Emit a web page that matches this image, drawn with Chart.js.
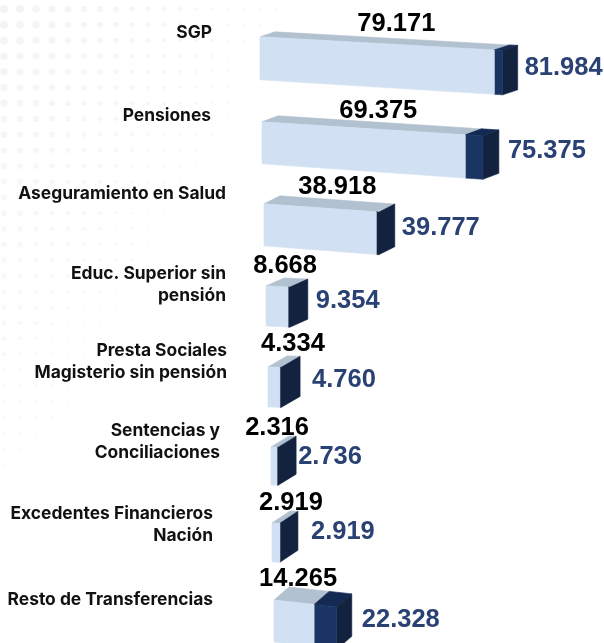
<!DOCTYPE html>
<html lang="es">
<head>
<meta charset="utf-8">
<title>Transferencias</title>
<script src="https://cdn.jsdelivr.net/npm/chart.js@4/dist/chart.umd.min.js"></script>
<style>
    html, body { margin: 0; padding: 0; background: #fff; }
    #wrap { width: 604px; height: 643px; overflow: hidden; }
</style>
</head>
<body>
<div id="wrap"><canvas id="graph"></canvas></div>
<script>
/********
 * Data *
 ********/
const categories = [
    ["SGP"],
    ["Pensiones"],
    ["Aseguramiento en Salud"],
    ["Educ. Superior sin", "pensión"],
    ["Presta Sociales", "Magisterio sin pensión"],
    ["Sentencias y", "Conciliaciones"],
    ["Excedentes Financieros", "Nación"],
    ["Resto de Transferencias"]
];
const lightValues = [79171, 69375, 38918, 8668, 4334, 2316, 2919, 14265];
const darkValues = [81984, 75375, 39777, 9354, 4760, 2736, 2919, 22328];

/**********
 * Layout *
 **********/
// pixels per row, the picture is a hand placed 3D perspective so nothing is regular
const rowDrop = [-2.5, 4.4, 8.8, 12.2, 15.6, 17, 15.9, 16.8];  // bar centre vs category centre
const rowShift = [0, 2, 4, 6, 8, 11, 12, 14];                  // left edge drifts right going down
const foreshorten = [1, 0.99, 0.975, 0.86, 0.93, 0.88, 0.92, 0.95];
const frontHeight = [43, 42, 42, 40, 40, 38, 39, 42];
const frontSlope = [0.056, 0.064, 0.071, 0.05, 0.03, 0.03, 0.03, 0.11];
const depthX = [15, 16, 16, 18, 19, 18, 18, 15];
const depthY = [-5, -6, -8, -8, -11, -11, -12, -13];

const labelRight = [212, 211, 226, 226, 227, 220, 213, 213];
const labelDy = [-28.5, -23.1, -22.7, -20.3, -20.9, -18.5, -13.1, -4.7];
const lightLabelDx = [-98, -87, -39, -3, 13, 0, 11, -16];
const lightLabelDy = [-36.5, -27.1, -28.7, -27.3, -26.9, -20.5, -23.1, -25.7];
const darkLabelGap = [7, 9, 7, 8, 12, 2, 13, 10];
const darkLabelDy = [7.5, 12.9, 12.3, 7.7, 9.1, 8.5, 5.9, 15.3];

const frontLight = "#d1e1f3";
const topLight = "#b2c1d0";
const frontDark = "#1a3564";
const topDark = "#152a52";
const sideDark = "#12223f";
const labelBlue = "#2a4273";
const valueFont = "700 25.5px 'Liberation Sans', Arial, sans-serif";
const categoryFont = "700 17.4px Inter, 'Noto Sans', sans-serif";
const thinFront = 4; // a dark front narrower than this just melts into the side


/**
 * Writes a value with a dot as thousands separator.
 */
function formatValue(value) {
    return String(value).replace(/\B(?=(\d{3})+$)/g, ".");
}

function fillPolygon(ctx, color, points) {
    ctx.fillStyle = color;
    ctx.strokeStyle = color;
    ctx.lineWidth = 0.6; // hides the seam between faces
    ctx.beginPath();
    points.forEach((p, i) => i ? ctx.lineTo(p[0], p[1]) : ctx.moveTo(p[0], p[1]));
    ctx.closePath();
    ctx.fill();
    ctx.stroke();
}

/**
 * Faint dot pattern behind the chart, fades to the right and downwards.
 */
const dotsPlugin = {
    id: "dots",
    beforeDraw(chart) {
        const ctx = chart.ctx;
        ctx.save();
        for (let y = 9; y < 643; y += 15.7) {
            for (let x = 4; x < 604; x += 16) {
                const radius = Math.max(0.9, 4.2 - 0.011 * x - 0.0055 * y);
                const alpha = Math.max(0.015, 0.055 - 0.00005 * x - 0.00007 * y);
                ctx.fillStyle = `rgba(60,60,60,${alpha})`;
                ctx.beginPath();
                ctx.arc(x, y, radius, 0, Math.PI * 2);
                ctx.fill();
            }
        }
        ctx.restore();
    }
};

/**
 * Turns the bar elements of both datasets into boxes and writes the labels.
 */
const boxesPlugin = {
    id: "boxes",
    afterDatasetsDraw(chart) {
        const ctx = chart.ctx;
        const yScale = chart.scales.y;
        const darkBars = chart.getDatasetMeta(0).data;
        const lightBars = chart.getDatasetMeta(1).data;

        categories.forEach((lines, i) => {
            const base = lightBars[i].base;
            const left = base + rowShift[i];
            const lightEnd = left + (lightBars[i].x - base) * foreshorten[i];
            const darkEnd = left + (darkBars[i].x - base) * foreshorten[i];
            const h = frontHeight[i];
            const top = lightBars[i].y + rowDrop[i] - h / 2;
            const s = frontSlope[i];
            const dx = depthX[i];
            const dy = depthY[i];
            const yAt = x => top + (x - left) * s;
            const grow = x => (x - left) * 0.006;
            const thin = darkEnd - lightEnd < thinFront;

            const corner = (x, low) => [x, yAt(x) + (low ? h + grow(x) : 0)];
            const back = p => [p[0] + dx, p[1] + dy];

            // side and tops first, the front goes over them
            const endTop = corner(darkEnd, false);
            const endLow = corner(darkEnd, true);
            const startTop = corner(left, false);
            const midTop = corner(lightEnd, false);
            const midLow = corner(lightEnd, true);

            fillPolygon(ctx, topLight, [startTop, back(startTop), back(endTop), midTop]);
            if (thin) {
                fillPolygon(ctx, sideDark, [midTop, endTop, back(endTop), back(endLow), endLow, midLow]);
            } else {
                fillPolygon(ctx, topDark, [midTop, back(midTop), back(endTop), endTop]);
                fillPolygon(ctx, sideDark, [endTop, back(endTop), back(endLow), endLow]);
                fillPolygon(ctx, frontDark, [midTop, endTop, endLow, midLow]);
            }
            fillPolygon(ctx, frontLight, [startTop, midTop, midLow, corner(left, true)]);

            // value labels
            ctx.textBaseline = "middle";
            ctx.font = valueFont;
            ctx.fillStyle = "#000";
            ctx.textAlign = "center";
            ctx.fillText(formatValue(lightValues[i]), lightEnd + lightLabelDx[i], lightBars[i].y + lightLabelDy[i]);
            ctx.fillStyle = labelBlue;
            ctx.textAlign = "left";
            ctx.fillText(formatValue(darkValues[i]), darkEnd + dx + darkLabelGap[i], darkBars[i].y + darkLabelDy[i]);

            // category labels
            ctx.font = categoryFont;
            ctx.fillStyle = "#111";
            ctx.textAlign = "right";
            lines.forEach((line, n) => {
                ctx.fillText(line, labelRight[i], yScale.getPixelForValue(i) + labelDy[i] + n * 22.5);
            });
        });
    }
};

const chart = new Chart(document.getElementById("graph").getContext("2d"), {
    type: "bar",
    data: {
        labels: categories,
        datasets: [
            { label: "Dark", data: darkValues, backgroundColor: "transparent", grouped: false },
            { label: "Light", data: lightValues, backgroundColor: "transparent", grouped: false }
        ]
    },
    options: {
        indexAxis: "y",
        responsive: true,
        maintainAspectRatio: false,
        animation: false,
        layout: { padding: { left: 260, top: 22, right: 0, bottom: 0 } },
        plugins: { legend: { display: false }, tooltip: { enabled: false } },
        scales: {
            x: { display: false, min: 0, max: 116216 },
            y: { display: false }
        }
    },
    plugins: [dotsPlugin, boxesPlugin]
});
</script>
</body>
</html>
